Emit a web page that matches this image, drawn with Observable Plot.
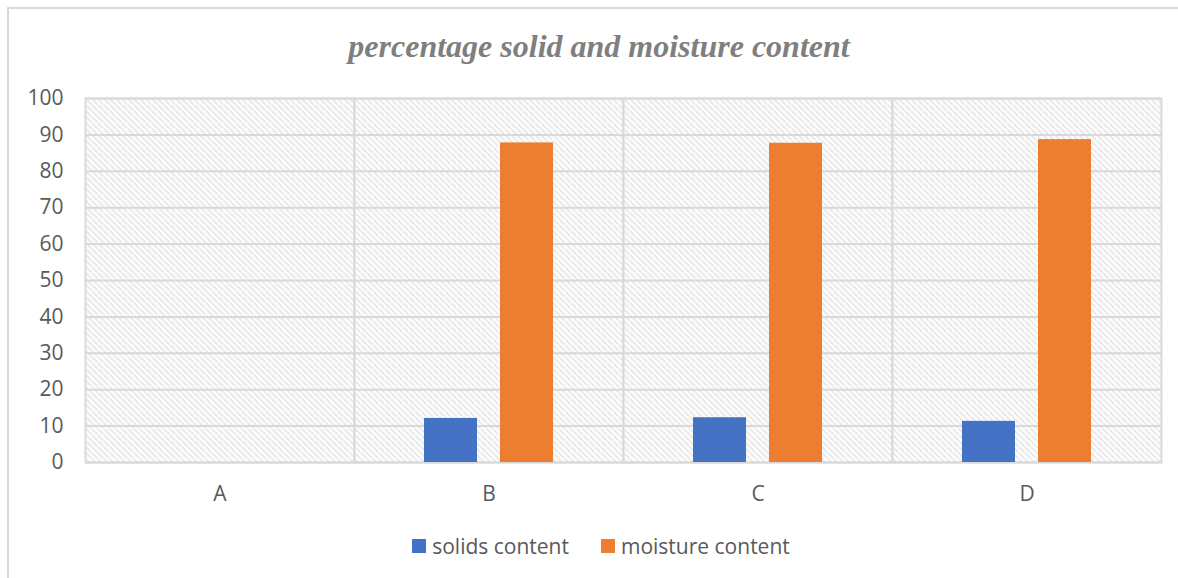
<!DOCTYPE html>
<html>
<head>
<meta charset="utf-8">
<script src="https://cdn.jsdelivr.net/npm/d3@7"></script>
<script src="https://cdn.jsdelivr.net/npm/@observablehq/plot@0.6"></script>
<style>
  html, body { margin: 0; padding: 0; background: #fff; }
  body { width: 1178px; height: 578px; overflow: hidden; position: relative; font-family: "Open Sans", sans-serif; }
  #frame { position: absolute; left: 7px; top: 7px; width: 1200px; height: 600px; border-left: 2px solid #d9d9d9; border-top: 2px solid #d9d9d9; box-sizing: border-box; }
  #title { position: absolute; left: 0; width: 1198px; top: 27px; text-align: center; font-family: "Liberation Serif", serif; font-style: italic; font-weight: bold; font-size: 32px; color: #7f7f7f; line-height: 38px; }
  #chart { position: absolute; left: 0; top: 80px; }
  #legend { position: absolute; left: 12px; width: 1178px; top: 531px; display: flex; justify-content: center; gap: 32px; font-size: 21px; color: #595959; line-height: 30px; }
  .item { display: flex; align-items: center; gap: 6px; }
  .sw { width: 14px; height: 14px; display: inline-block; }
</style>
</head>
<body>
<div id="frame"></div>
<div id="title">percentage solid and moisture content</div>
<div id="chart"></div>
<div id="legend"></div>
<script>
const categories = ["A", "B", "C", "D"];
const seriesNames = ["solids content", "moisture content"];
const solids = [0, 12.1, 12.3, 11.3];
const moisture = [0, 87.8, 87.7, 88.7];
const colors = ["#4472C4", "#ED7D31"];
const yTicks = [0, 10, 20, 30, 40, 50, 60, 70, 80, 90, 100];

const data = [];
categories.forEach((c, i) => {
  data.push({category: c, series: seriesNames[0], value: solids[i]});
  data.push({category: c, series: seriesNames[1], value: moisture[i]});
});

const chart = Plot.plot({
  width: 1178,
  height: 440,
  marginLeft: 84,
  marginRight: 17,
  marginTop: 18,
  marginBottom: 58,
  style: {fontFamily: "Open Sans", background: "transparent", overflow: "visible"},
  fx: {domain: categories, padding: 0, axis: null},
  x: {domain: seriesNames, paddingInner: 0.3026, paddingOuter: 0.921, axis: null},
  y: {domain: [0, 100], axis: null},
  color: {domain: seriesNames, range: colors},
  marks: [
    Plot.frame({fill: "url(#hatch)", stroke: "#d9d9d9", strokeWidth: 2}),
    Plot.gridY(yTicks, {stroke: "#d9d9d9", strokeOpacity: 1, strokeWidth: 2}),
    Plot.barY(data, {fx: "category", x: "series", y: "value", fill: "series", inset: 0}),
    Plot.axisY(yTicks, {tickSize: 0, tickPadding: 22, fontSize: 21, fill: "#595959", label: null}),
    Plot.axisFx({anchor: "bottom", tickSize: 0, tickPadding: 24, fontSize: 21, fill: "#595959", label: null})
  ]
});

// hatch pattern defs
const ns = "http://www.w3.org/2000/svg";
const defs = document.createElementNS(ns, "defs");
const pat = document.createElementNS(ns, "pattern");
pat.setAttribute("id", "hatch");
pat.setAttribute("patternUnits", "userSpaceOnUse");
pat.setAttribute("width", "6");
pat.setAttribute("height", "6");
const bg = document.createElementNS(ns, "rect");
bg.setAttribute("width", "6"); bg.setAttribute("height", "6"); bg.setAttribute("fill", "#ffffff");
pat.appendChild(bg);
const p = document.createElementNS(ns, "path");
p.setAttribute("d", "M-1,-1L7,7M-1,5L1,7M5,-1L7,1");
p.setAttribute("stroke", "#d2d2d2");
p.setAttribute("stroke-width", "1.6");
p.setAttribute("stroke-dasharray", "1.5 0.9");
pat.appendChild(p);
defs.appendChild(pat);
chart.insertBefore(defs, chart.firstChild);

document.getElementById("chart").appendChild(chart);

const legend = document.getElementById("legend");
seriesNames.forEach((s, i) => {
  const it = document.createElement("div");
  it.className = "item";
  const sw = document.createElement("span");
  sw.className = "sw";
  sw.style.background = colors[i];
  const t = document.createElement("span");
  t.textContent = s;
  it.appendChild(sw); it.appendChild(t);
  legend.appendChild(it);
});
</script>
</body>
</html>
